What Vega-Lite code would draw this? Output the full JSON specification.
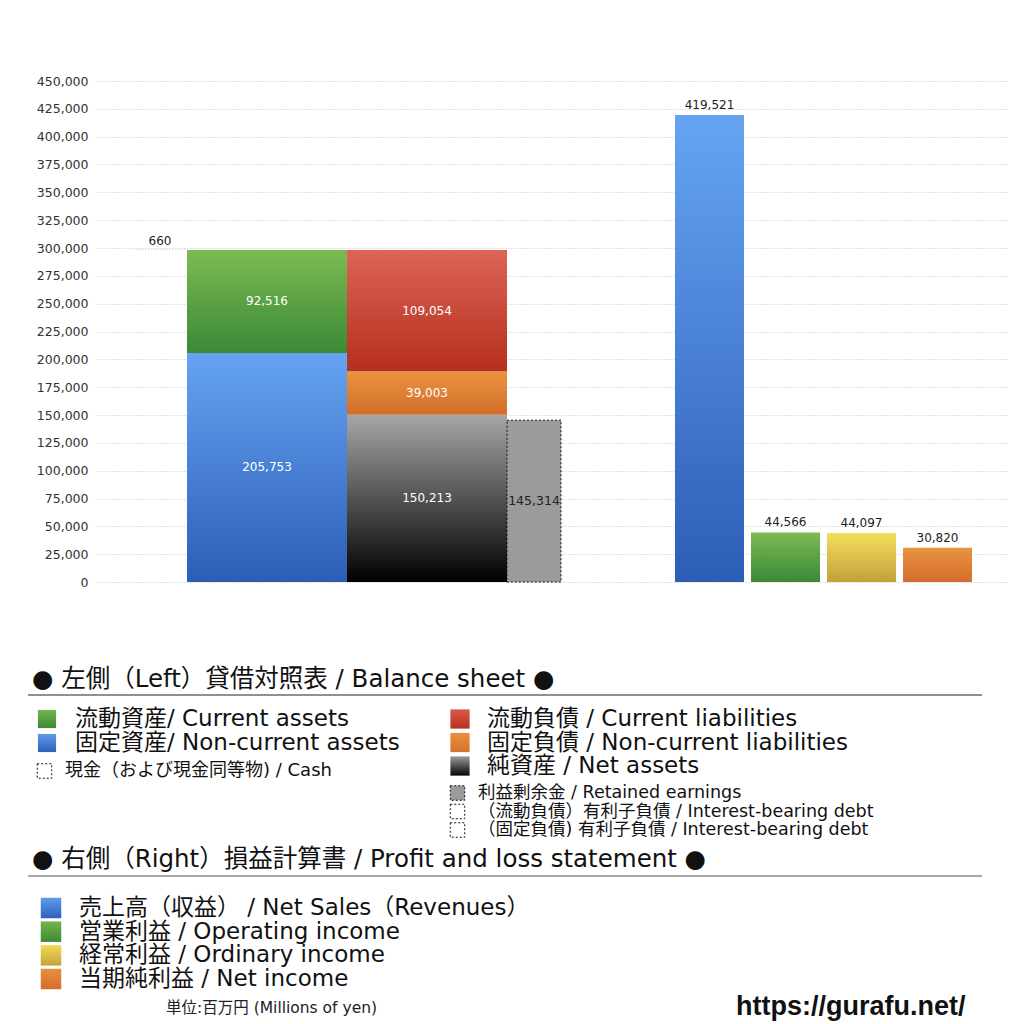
{
  "$schema": "https://vega.github.io/schema/vega-lite/v6.json",
  "width": 910,
  "height": 501,
  "autosize": {"type": "none"},
  "padding": {"left": 97, "top": 81, "right": 17, "bottom": 442},
  "background": "#ffffff",
  "config": {"view": {"stroke": null}},
  "datasets": {
    "bs": [
      {"列": "資産", "項目": "固定資産", "値": 205753, "順": 1},
      {"列": "資産", "項目": "流動資産", "値": 92516, "順": 2},
      {"列": "資産", "項目": "現金", "値": 660, "順": 3},
      {"列": "負債・純資産", "項目": "純資産", "値": 150213, "順": 1},
      {"列": "負債・純資産", "項目": "固定負債", "値": 39003, "順": 2},
      {"列": "負債・純資産", "項目": "流動負債", "値": 109054, "順": 3},
      {"列": "利益剰余金", "項目": "利益剰余金", "値": 145314, "順": 1}
    ],
    "pl": [
      {"項目": "売上高", "値": 419521},
      {"項目": "営業利益", "値": 44566},
      {"項目": "経常利益", "値": 44097},
      {"項目": "当期純利益", "値": 30820}
    ],
    "legend": [
      {"群": "見出し", "項目": "左側", "ラベル": "● 左側（Left）貸借対照表 / Balance sheet ●"},
      {"群": "見出し", "項目": "右側", "ラベル": "● 右側（Right）損益計算書 / Profit and loss statement ●"},
      {"群": "左大", "項目": "流動資産", "ラベル": "流動資産/ Current assets"},
      {"群": "左大", "項目": "固定資産", "ラベル": "固定資産/ Non-current assets"},
      {"群": "左小", "項目": "現金", "ラベル": "現金（および現金同等物) / Cash"},
      {"群": "右大", "項目": "流動負債", "ラベル": "流動負債 /  Current liabilities"},
      {"群": "右大", "項目": "固定負債", "ラベル": "固定負債 / Non-current liabilities"},
      {"群": "右大", "項目": "純資産", "ラベル": "純資産 / Net assets"},
      {"群": "右小", "項目": "利益剰余金", "ラベル": "利益剰余金 / Retained earnings"},
      {"群": "右小", "項目": "有利子負債（流動）", "ラベル": "（流動負債）有利子負債 / Interest-bearing debt"},
      {"群": "右小", "項目": "有利子負債（固定）", "ラベル": "（固定負債) 有利子負債 / Interest-bearing debt"},
      {"群": "損益", "項目": "売上高", "ラベル": "売上高（収益） / Net Sales（Revenues）"},
      {"群": "損益", "項目": "営業利益", "ラベル": "営業利益 / Operating income"},
      {"群": "損益", "項目": "経常利益", "ラベル": "経常利益 / Ordinary income"},
      {"群": "損益", "項目": "当期純利益", "ラベル": "当期純利益 / Net income"},
      {"群": "単位", "項目": "単位", "ラベル": "単位:百万円 (Millions of yen)"},
      {"群": "出典", "項目": "出典", "ラベル": "https://gurafu.net/"}
    ]
  },
  "resolve": {"scale": {"x": "independent", "y": "independent"}},
  "layer": [
    {
      "data": {"name": "pl"},
      "mark": {"type": "rule", "opacity": 0},
      "encoding": {
        "y": {"field": "値", "type": "quantitative", "scale": {"domain": [0, 450000], "nice": false, "zero": false},
          "axis": {"values": [0, 25000, 50000, 75000, 100000, 125000, 150000, 175000, 200000, 225000, 250000, 275000, 300000, 325000, 350000, 375000, 400000, 425000, 450000],
            "format": ",d", "title": null, "grid": true, "gridColor": "#c4c4c4", "gridDash": [1, 2], "gridWidth": 1, "domain": false, "ticks": false,
            "labelFont": "DejaVu Sans", "labelFontSize": 12.5, "labelColor": "#333333", "labelPadding": 9}}
      }
    },
    {
      "resolve": {"scale": {"x": "independent"}},
      "layer": [
        {
          "data": {"name": "bs"},
          "transform": [
            {"stack": "値", "groupby": ["列"], "sort": [{"field": "順", "order": "ascending"}], "as": ["下", "上"]},
            {"filter": "datum['列'] === '資産' && datum['項目'] !== '現金'"}
          ],
          "encoding": {
            "x": {"field": "列", "type": "nominal", "scale": {"domain": ["資産"], "range": [90, 250], "paddingInner": 0, "paddingOuter": 0}, "axis": null}
          },
          "layer": [
            {
              "transform": [{"filter": "datum['項目'] === '固定資産'"}],
              "mark": {"type": "bar", "fill": {"gradient": "linear", "x1": 0, "y1": 0, "x2": 0, "y2": 1, "stops": [{"offset": 0, "color": "#66a4f2"}, {"offset": 1, "color": "#2c5db7"}]}},
              "encoding": {
                "y": {"field": "下", "type": "quantitative", "scale": {"domain": [0, 450000], "nice": false, "zero": false}, "axis": null},
                "y2": {"field": "上"}
              }
            },
            {
              "transform": [{"filter": "datum['項目'] === '流動資産'"}],
              "mark": {"type": "bar", "fill": {"gradient": "linear", "x1": 0, "y1": 0, "x2": 0, "y2": 1, "stops": [{"offset": 0, "color": "#7cbb52"}, {"offset": 1, "color": "#3b8937"}]}},
              "encoding": {
                "y": {"field": "下", "type": "quantitative", "scale": {"domain": [0, 450000], "nice": false, "zero": false}, "axis": null},
                "y2": {"field": "上"}
              }
            },
            {
              "transform": [{"fold": ["下", "上"], "as": ["端", "位置"]}],
              "mark": {"type": "text", "color": "#ffffff", "font": "DejaVu Sans", "fontSize": 12, "baseline": "middle"},
              "encoding": {
                "y": {"field": "位置", "aggregate": "mean", "type": "quantitative", "scale": {"domain": [0, 450000], "nice": false, "zero": false}, "axis": null},
                "text": {"field": "値", "type": "quantitative", "format": ","}
              }
            }
          ]
        },
        {
          "data": {"name": "bs"},
          "transform": [
            {"stack": "値", "groupby": ["列"], "sort": [{"field": "順", "order": "ascending"}], "as": ["下", "上"]},
            {"filter": "datum['項目'] === '現金'"}
          ],
          "encoding": {
            "x": {"field": "項目", "type": "nominal", "scale": {"domain": ["現金"], "range": [36, 90], "paddingInner": 0, "paddingOuter": 0}, "axis": null}
          },
          "layer": [
            {
              "mark": {"type": "bar", "fill": "#ffffff", "fillOpacity": 0, "stroke": "#cccccc", "strokeDash": [1, 2], "strokeWidth": 0.5},
              "encoding": {
                "y": {"field": "下", "type": "quantitative", "scale": {"domain": [0, 450000], "nice": false, "zero": false}, "axis": null},
                "y2": {"field": "上"}
              }
            },
            {
              "mark": {"type": "text", "color": "#222222", "font": "DejaVu Sans", "fontSize": 12, "baseline": "bottom", "dy": -1},
              "encoding": {
                "y": {"field": "上", "type": "quantitative", "scale": {"domain": [0, 450000], "nice": false, "zero": false}, "axis": null},
                "text": {"field": "値", "type": "quantitative", "format": ","}
              }
            }
          ]
        },
        {
          "data": {"name": "bs"},
          "transform": [
            {"stack": "値", "groupby": ["列"], "sort": [{"field": "順", "order": "ascending"}], "as": ["下", "上"]},
            {"filter": "datum['列'] === '負債・純資産'"}
          ],
          "encoding": {
            "x": {"field": "列", "type": "nominal", "scale": {"domain": ["負債・純資産"], "range": [250, 410], "paddingInner": 0, "paddingOuter": 0}, "axis": null}
          },
          "layer": [
            {
              "transform": [{"filter": "datum['項目'] === '純資産'"}],
              "mark": {"type": "bar", "fill": {"gradient": "linear", "x1": 0, "y1": 0, "x2": 0, "y2": 1, "stops": [{"offset": 0, "color": "#a6a6a6"}, {"offset": 1, "color": "#000000"}]}},
              "encoding": {
                "y": {"field": "下", "type": "quantitative", "scale": {"domain": [0, 450000], "nice": false, "zero": false}, "axis": null},
                "y2": {"field": "上"}
              }
            },
            {
              "transform": [{"filter": "datum['項目'] === '固定負債'"}],
              "mark": {"type": "bar", "fill": {"gradient": "linear", "x1": 0, "y1": 0, "x2": 0, "y2": 1, "stops": [{"offset": 0, "color": "#e9943f"}, {"offset": 1, "color": "#d36d2c"}]}},
              "encoding": {
                "y": {"field": "下", "type": "quantitative", "scale": {"domain": [0, 450000], "nice": false, "zero": false}, "axis": null},
                "y2": {"field": "上"}
              }
            },
            {
              "transform": [{"filter": "datum['項目'] === '流動負債'"}],
              "mark": {"type": "bar", "fill": {"gradient": "linear", "x1": 0, "y1": 0, "x2": 0, "y2": 1, "stops": [{"offset": 0, "color": "#dc6457"}, {"offset": 1, "color": "#b52f1c"}]}},
              "encoding": {
                "y": {"field": "下", "type": "quantitative", "scale": {"domain": [0, 450000], "nice": false, "zero": false}, "axis": null},
                "y2": {"field": "上"}
              }
            },
            {
              "transform": [{"fold": ["下", "上"], "as": ["端", "位置"]}],
              "mark": {"type": "text", "color": "#ffffff", "font": "DejaVu Sans", "fontSize": 12, "baseline": "middle"},
              "encoding": {
                "y": {"field": "位置", "aggregate": "mean", "type": "quantitative", "scale": {"domain": [0, 450000], "nice": false, "zero": false}, "axis": null},
                "text": {"field": "値", "type": "quantitative", "format": ","}
              }
            }
          ]
        },
        {
          "data": {"name": "bs"},
          "transform": [
            {"stack": "値", "groupby": ["列"], "sort": [{"field": "順", "order": "ascending"}], "as": ["下", "上"]},
            {"filter": "datum['列'] === '利益剰余金'"}
          ],
          "encoding": {
            "x": {"field": "列", "type": "nominal", "scale": {"domain": ["利益剰余金"], "range": [410, 464], "paddingInner": 0, "paddingOuter": 0}, "axis": null}
          },
          "layer": [
            {
              "mark": {"type": "bar", "fill": "#9b9b9b", "stroke": "#111111", "strokeDash": [2, 2], "strokeWidth": 1},
              "encoding": {
                "y": {"field": "下", "type": "quantitative", "scale": {"domain": [0, 450000], "nice": false, "zero": false}, "axis": null},
                "y2": {"field": "上"}
              }
            },
            {
              "transform": [{"fold": ["下", "上"], "as": ["端", "位置"]}],
              "mark": {"type": "text", "color": "#222222", "font": "DejaVu Sans", "fontSize": 12.5, "baseline": "middle"},
              "encoding": {
                "y": {"field": "位置", "aggregate": "mean", "type": "quantitative", "scale": {"domain": [0, 450000], "nice": false, "zero": false}, "axis": null},
                "text": {"field": "値", "type": "quantitative", "format": ","}
              }
            }
          ]
        },
        {
          "data": {"name": "pl"},
          "encoding": {
            "x": {"field": "項目", "type": "nominal", "scale": {"domain": ["売上高", "営業利益", "経常利益", "当期純利益"], "range": [578, 875], "paddingInner": 0.0921, "paddingOuter": 0}, "axis": null}
          },
          "layer": [
            {
              "transform": [{"filter": "datum['項目'] === '売上高'"}],
              "mark": {"type": "bar", "fill": {"gradient": "linear", "x1": 0, "y1": 0, "x2": 0, "y2": 1, "stops": [{"offset": 0, "color": "#66a4f2"}, {"offset": 1, "color": "#2c5db7"}]}},
              "encoding": {"y": {"field": "値", "type": "quantitative", "scale": {"domain": [0, 450000], "nice": false, "zero": false}, "axis": null}}
            },
            {
              "transform": [{"filter": "datum['項目'] === '営業利益'"}],
              "mark": {"type": "bar", "fill": {"gradient": "linear", "x1": 0, "y1": 0, "x2": 0, "y2": 1, "stops": [{"offset": 0, "color": "#7cbb52"}, {"offset": 1, "color": "#3b8937"}]}},
              "encoding": {"y": {"field": "値", "type": "quantitative", "scale": {"domain": [0, 450000], "nice": false, "zero": false}, "axis": null}}
            },
            {
              "transform": [{"filter": "datum['項目'] === '経常利益'"}],
              "mark": {"type": "bar", "fill": {"gradient": "linear", "x1": 0, "y1": 0, "x2": 0, "y2": 1, "stops": [{"offset": 0, "color": "#f4de59"}, {"offset": 1, "color": "#c1a13b"}]}},
              "encoding": {"y": {"field": "値", "type": "quantitative", "scale": {"domain": [0, 450000], "nice": false, "zero": false}, "axis": null}}
            },
            {
              "transform": [{"filter": "datum['項目'] === '当期純利益'"}],
              "mark": {"type": "bar", "fill": {"gradient": "linear", "x1": 0, "y1": 0, "x2": 0, "y2": 1, "stops": [{"offset": 0, "color": "#e9943f"}, {"offset": 1, "color": "#d36d2c"}]}},
              "encoding": {"y": {"field": "値", "type": "quantitative", "scale": {"domain": [0, 450000], "nice": false, "zero": false}, "axis": null}}
            },
            {
              "mark": {"type": "text", "color": "#222222", "font": "DejaVu Sans", "fontSize": 12, "baseline": "bottom", "dy": -3},
              "encoding": {
                "y": {"field": "値", "type": "quantitative", "scale": {"domain": [0, 450000], "nice": false, "zero": false}, "axis": null},
                "text": {"field": "値", "type": "quantitative", "format": ","}
              }
            }
          ]
        }
      ]
    },
    {
      "data": {"name": "legend"},
      "transform": [{"filter": "datum['群'] === '見出し'"}],
      "mark": {"type": "text", "align": "left", "baseline": "middle", "font": "DejaVu Sans, Noto Sans CJK JP", "fontSize": 24.5, "color": "#111111"},
      "encoding": {
        "y": {"field": "項目", "type": "nominal", "scale": {"type": "point", "domain": ["左側", "右側"], "range": [599, 779], "padding": 0}, "axis": null},
        "x": {"field": "群", "type": "nominal", "scale": {"type": "point", "domain": ["見出し"], "range": [-65, -65], "padding": 0}, "axis": null},
        "text": {"field": "ラベル"}
      }
    },
    {
      "data": {"name": "legend"},
      "transform": [{"filter": "datum['群'] === '見出し'"}],
      "mark": {"type": "rule"},
      "encoding": {
        "y": {"field": "項目", "type": "nominal", "scale": {"type": "point", "domain": ["左側", "右側"], "range": [614, 795], "padding": 0}, "axis": null},
        "x": {"datum": "左端", "type": "nominal", "scale": {"type": "point", "domain": ["左端", "右端"], "range": [-69, 885], "padding": 0}, "axis": null},
        "x2": {"datum": "右端"},
        "color": {"field": "項目", "type": "nominal", "scale": {"domain": ["左側", "右側"], "range": ["#222222", "#8c8c8c"]}, "legend": null},
        "size": {"field": "項目", "type": "nominal", "scale": {"domain": ["左側", "右側"], "range": [1, 1.6]}, "legend": null}
      }
    },
    {
      "data": {"name": "legend"},
      "transform": [{"filter": "datum['群'] === '左大'"}],
      "encoding": {
        "x": {"field": "群", "type": "nominal", "scale": {"type": "point", "domain": ["左大"], "range": [-50, -50], "padding": 0}, "axis": null},
        "y": {"field": "項目", "type": "nominal", "scale": {"type": "point", "domain": ["流動資産", "固定資産"], "range": [638, 662], "padding": 0}, "axis": null}
      },
      "layer": [
        {
          "transform": [{"filter": "datum['項目'] === '流動資産'"}],
          "mark": {"type": "square", "size": 330, "opacity": 1, "fill": {"gradient": "linear", "x1": 0, "y1": 0, "x2": 0, "y2": 1, "stops": [{"offset": 0, "color": "#74b54b"}, {"offset": 1, "color": "#3d8a37"}]}}
        },
        {
          "transform": [{"filter": "datum['項目'] === '固定資産'"}],
          "mark": {"type": "square", "size": 330, "opacity": 1, "fill": {"gradient": "linear", "x1": 0, "y1": 0, "x2": 0, "y2": 1, "stops": [{"offset": 0, "color": "#5f9cec"}, {"offset": 1, "color": "#2f60bb"}]}}
        },
        {
          "mark": {"type": "text", "align": "left", "baseline": "middle", "dx": 28, "font": "DejaVu Sans, Noto Sans CJK JP", "fontSize": 23, "color": "#111111"},
          "encoding": {"text": {"field": "ラベル"}}
        }
      ]
    },
    {
      "data": {"name": "legend"},
      "transform": [{"filter": "datum['群'] === '左小'"}],
      "encoding": {
        "x": {"field": "群", "type": "nominal", "scale": {"type": "point", "domain": ["左小"], "range": [-52.5, -52.5], "padding": 0}, "axis": null},
        "y": {"field": "項目", "type": "nominal", "scale": {"type": "point", "domain": ["現金"], "range": [690, 690], "padding": 0}, "axis": null}
      },
      "layer": [
        {
          "mark": {"type": "square", "size": 210, "opacity": 1, "fill": "#ffffff", "stroke": "#111111", "strokeDash": [2, 2], "strokeWidth": 1}
        },
        {
          "mark": {"type": "text", "align": "left", "baseline": "middle", "dx": 20.5, "font": "DejaVu Sans, Noto Sans CJK JP", "fontSize": 18, "color": "#111111"},
          "encoding": {"text": {"field": "ラベル"}}
        }
      ]
    },
    {
      "data": {"name": "legend"},
      "transform": [{"filter": "datum['群'] === '右大'"}],
      "encoding": {
        "x": {"field": "群", "type": "nominal", "scale": {"type": "point", "domain": ["右大"], "range": [363, 363], "padding": 0}, "axis": null},
        "y": {"field": "項目", "type": "nominal", "scale": {"type": "point", "domain": ["流動負債", "固定負債", "純資産"], "range": [638, 685], "padding": 0}, "axis": null}
      },
      "layer": [
        {
          "transform": [{"filter": "datum['項目'] === '流動負債'"}],
          "mark": {"type": "square", "size": 370, "opacity": 1, "fill": {"gradient": "linear", "x1": 0, "y1": 0, "x2": 0, "y2": 1, "stops": [{"offset": 0, "color": "#d95a4c"}, {"offset": 1, "color": "#b8321f"}]}}
        },
        {
          "transform": [{"filter": "datum['項目'] === '固定負債'"}],
          "mark": {"type": "square", "size": 370, "opacity": 1, "fill": {"gradient": "linear", "x1": 0, "y1": 0, "x2": 0, "y2": 1, "stops": [{"offset": 0, "color": "#e8913d"}, {"offset": 1, "color": "#d6722e"}]}}
        },
        {
          "transform": [{"filter": "datum['項目'] === '純資産'"}],
          "mark": {"type": "square", "size": 370, "opacity": 1, "fill": {"gradient": "linear", "x1": 0, "y1": 0, "x2": 0, "y2": 1, "stops": [{"offset": 0, "color": "#9a9a9a"}, {"offset": 1, "color": "#050505"}]}}
        },
        {
          "mark": {"type": "text", "align": "left", "baseline": "middle", "dx": 27, "font": "DejaVu Sans, Noto Sans CJK JP", "fontSize": 23, "color": "#111111"},
          "encoding": {"text": {"field": "ラベル"}}
        }
      ]
    },
    {
      "data": {"name": "legend"},
      "transform": [{"filter": "datum['群'] === '右小'"}],
      "encoding": {
        "x": {"field": "群", "type": "nominal", "scale": {"type": "point", "domain": ["右小"], "range": [360.5, 360.5], "padding": 0}, "axis": null},
        "y": {"field": "項目", "type": "nominal", "scale": {"type": "point", "domain": ["利益剰余金", "有利子負債（流動）", "有利子負債（固定）"], "range": [712, 749], "padding": 0}, "axis": null}
      },
      "layer": [
        {
          "transform": [{"filter": "datum['項目'] === '利益剰余金'"}],
          "mark": {"type": "square", "size": 210, "opacity": 1, "fill": "#9b9b9b", "stroke": "#111111", "strokeDash": [2, 2], "strokeWidth": 1}
        },
        {
          "transform": [{"filter": "datum['項目'] !== '利益剰余金'"}],
          "mark": {"type": "square", "size": 210, "opacity": 1, "fill": "#ffffff", "stroke": "#111111", "strokeDash": [2, 2], "strokeWidth": 1}
        },
        {
          "mark": {"type": "text", "align": "left", "baseline": "middle", "dx": 20.5, "font": "DejaVu Sans, Noto Sans CJK JP", "fontSize": 17.5, "color": "#111111"},
          "encoding": {"text": {"field": "ラベル"}}
        }
      ]
    },
    {
      "data": {"name": "legend"},
      "transform": [{"filter": "datum['群'] === '損益'"}],
      "encoding": {
        "x": {"field": "群", "type": "nominal", "scale": {"type": "point", "domain": ["損益"], "range": [-46, -46], "padding": 0}, "axis": null},
        "y": {"field": "項目", "type": "nominal", "scale": {"type": "point", "domain": ["売上高", "営業利益", "経常利益", "当期純利益"], "range": [827, 898], "padding": 0}, "axis": null}
      },
      "layer": [
        {
          "transform": [{"filter": "datum['項目'] === '売上高'"}],
          "mark": {"type": "square", "size": 420, "opacity": 1, "fill": {"gradient": "linear", "x1": 0, "y1": 0, "x2": 0, "y2": 1, "stops": [{"offset": 0, "color": "#5f9cec"}, {"offset": 1, "color": "#2f60bb"}]}}
        },
        {
          "transform": [{"filter": "datum['項目'] === '営業利益'"}],
          "mark": {"type": "square", "size": 420, "opacity": 1, "fill": {"gradient": "linear", "x1": 0, "y1": 0, "x2": 0, "y2": 1, "stops": [{"offset": 0, "color": "#74b54b"}, {"offset": 1, "color": "#3d8a37"}]}}
        },
        {
          "transform": [{"filter": "datum['項目'] === '経常利益'"}],
          "mark": {"type": "square", "size": 420, "opacity": 1, "fill": {"gradient": "linear", "x1": 0, "y1": 0, "x2": 0, "y2": 1, "stops": [{"offset": 0, "color": "#f2da55"}, {"offset": 1, "color": "#c3a23c"}]}}
        },
        {
          "transform": [{"filter": "datum['項目'] === '当期純利益'"}],
          "mark": {"type": "square", "size": 420, "opacity": 1, "fill": {"gradient": "linear", "x1": 0, "y1": 0, "x2": 0, "y2": 1, "stops": [{"offset": 0, "color": "#e8913d"}, {"offset": 1, "color": "#d36d2c"}]}}
        },
        {
          "mark": {"type": "text", "align": "left", "baseline": "middle", "dx": 28, "font": "DejaVu Sans, Noto Sans CJK JP", "fontSize": 23, "color": "#111111"},
          "encoding": {"text": {"field": "ラベル"}}
        }
      ]
    },
    {
      "data": {"name": "legend"},
      "transform": [{"filter": "datum['群'] === '単位'"}],
      "mark": {"type": "text", "align": "left", "baseline": "middle", "font": "DejaVu Sans, Noto Sans CJK JP", "fontSize": 15.5, "color": "#222222"},
      "encoding": {
        "x": {"field": "群", "type": "nominal", "scale": {"type": "point", "domain": ["単位"], "range": [69, 69], "padding": 0}, "axis": null},
        "y": {"field": "群", "type": "nominal", "scale": {"type": "point", "domain": ["単位"], "range": [926.5, 926.5], "padding": 0}, "axis": null},
        "text": {"field": "ラベル"}
      }
    },
    {
      "data": {"name": "legend"},
      "transform": [{"filter": "datum['群'] === '出典'"}],
      "mark": {"type": "text", "align": "left", "baseline": "alphabetic", "font": "Liberation Sans", "fontWeight": "bold", "fontSize": 27, "color": "#111111"},
      "encoding": {
        "x": {"field": "群", "type": "nominal", "scale": {"type": "point", "domain": ["出典"], "range": [639, 639], "padding": 0}, "axis": null},
        "y": {"field": "群", "type": "nominal", "scale": {"type": "point", "domain": ["出典"], "range": [934, 934], "padding": 0}, "axis": null},
        "text": {"field": "ラベル"}
      }
    }
  ]
}
